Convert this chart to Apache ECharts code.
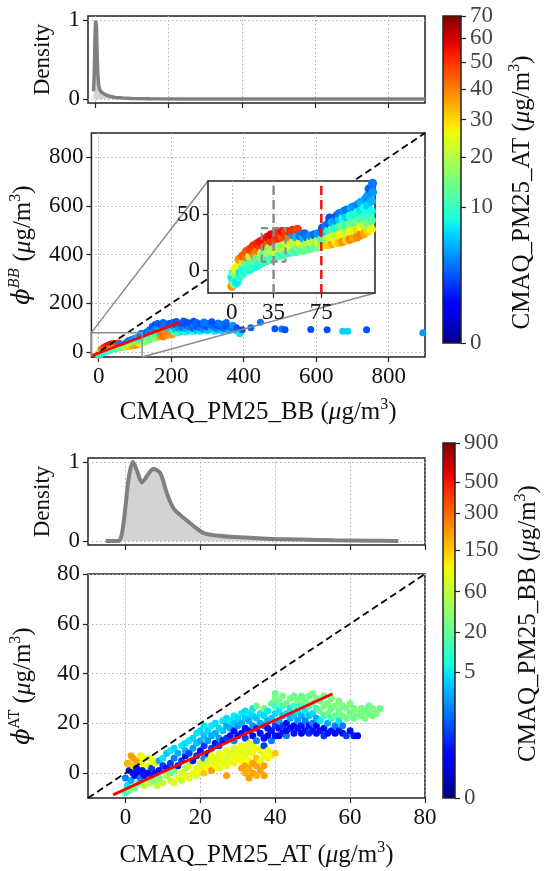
<!DOCTYPE html>
<html><head><meta charset="utf-8">
<script src="https://cdn.jsdelivr.net/npm/echarts@6/dist/echarts.min.js"></script>
<style>html,body{margin:0;padding:0;background:#fff}#c{width:544px;height:871px}</style>
</head><body><div id="c"></div>
<script>
// ---------------- data ----------------
const topDensX = [-5, -3, -1, 0, 1, 2, 3, 4, 5, 7, 9, 12, 16, 22, 30, 40, 55, 75, 100, 150, 250, 400, 600, 900];
const topDensY = [0.1, 0.3, 0.75, 0.92, 0.99, 1.0, 0.93, 0.75, 0.55, 0.3, 0.18, 0.12, 0.09, 0.07, 0.05, 0.035, 0.02, 0.012, 0.007, 0.004, 0.002, 0.001, 0.0005, 0.0005];
const botDensX = [-5.3, -2, -1, 0, 0.9, 2, 3, 4.4, 6, 7.4, 9.3, 11.1, 12.9, 15.6, 18.2, 20.9, 24.4, 29, 37.8, 46.7, 55.6, 65, 72.9];
const botDensY = [0, 0, 0.08, 0.43, 0.81, 1.0, 0.9, 0.74, 0.84, 0.91, 0.86, 0.6, 0.41, 0.29, 0.19, 0.1, 0.07, 0.05, 0.03, 0.02, 0.01, 0.004, 0];

// [CMAQ_PM25_BB, phi_BB, CMAQ_PM25_AT]
const bbPoints = [
[0,-14,38],[1,-10,10],[0,-6,7],[1,-2,12],[2,-12,15],
[3,-8,9],[3,-3,20],[3,2,27],[4,-11,7],
[6,-6,9],[6,0,15],[6,5,27],[6,10,38],[7,-2,7],
[9,-3,10],[9,3,12],[9,8,30],[9,13,45],[10,0,8],
[12,0,9],[12,6,12],[12,12,40],[12,17,45],
[15,1,8],[15,7,10],[15,13,20],[15,19,48],[16,4,12],
[18,3,9],[18,9,14],[18,16,45],[18,22,50],[19,13,38],
[21,4,8],[21,11,12],[21,18,40],[21,24,52],
[24,6,10],[24,12,15],[24,20,48],[24,26,55],[25,16,20],
[27,8,9],[27,14,12],[27,22,50],[27,28,55],
[30,9,10],[30,16,18],[30,24,45],[30,30,55],[31,20,15],
[33,10,12],[33,18,20],[33,26,50],[33,32,58],
[36,12,9],[36,20,15],[36,27,48],[36,33,55],[37,16,25],
[39,13,11],[39,21,18],[39,29,52],[39,34,50],
[42,14,10],[42,22,15],[42,30,45],[42,35,55],[43,18,20],
[45,15,12],[45,23,22],[45,31,50],[45,35,48],
[48,16,9],[48,24,18],[48,30,40],[48,35,52],[49,20,25],
[51,17,12],[51,25,20],[51,32,4],[51,36,50],
[54,17,10],[54,24,22],[54,30,5],[55,37,48],[55,21,15],
[57,18,14],[57,25,25],[57,31,3],
[60,18,12],[60,24,20],[60,29,5],[61,33,2.5],
[63,19,15],[63,25,18],[63,30,3],
[66,20,12],[66,26,22],[66,31,4],
[69,21,14],[69,27,18],[69,32,2.5],
[72,21,13],[72,27,20],[72,33,4],[73,24,25],
[75,22,16],[75,28,12],[75,34,3],[76,38,2],
[78,23,27],[78,29,14],[78,35,6],[79,40,3],
[81,23,30],[81,29,22],[81,36,9],[81,42,2.5],[82,47,2],
[84,24,35],[84,30,25],[84,37,12],[84,43,5],
[87,25,28],[87,31,20],[87,38,9],[87,45,4],[88,49,2.5],
[90,25,32],[90,32,27],[90,39,12],[90,46,6],[90,51,3],
[93,26,38],[93,33,25],[93,40,14],[93,47,8],[94,53,4],
[96,27,30],[96,34,20],[96,41,10],[96,48,6],[96,54,3],
[99,28,40],[99,35,27],[99,42,15],[99,49,9],[100,56,5],
[102,29,35],[102,36,22],[102,43,12],[102,50,8],[102,57,4],
[105,30,38],[105,37,30],[105,44,14],[105,52,9],[106,59,3],
[108,32,40],[108,39,25],[108,46,12],[108,54,7],[108,61,5],
[111,33,35],[111,40,20],[111,48,10],[111,56,8],[112,64,4],
[114,35,30],[114,42,15],[114,50,9],[114,58,6],[114,67,4],[115,73,2.5],
[117,37,25],[117,45,12],[117,53,8],[117,62,5],[118,70,4],[118,78,3],
[125,40,20],[125,55,10],[125,70,5],[130,45,15],[130,62,8],[130,80,3],
[135,48,18],[135,65,12],[135,85,2.5],[140,50,14],[140,62,15],[140,75,6],[140,92,3],
[148,55,12],[148,70,15],[148,88,4],[148,105,2],
[155,58,20],[155,75,10],[155,95,3],[155,112,2],
[162,60,15],[162,78,8],[162,100,4],[162,118,2.5],
[170,65,38],[170,80,40],[170,98,5],[170,115,2],
[178,62,40],[178,75,42],[178,90,38],[178,108,3],[178,122,2.5],
[186,68,38],[186,82,40],[186,95,6],[186,115,3],
[195,70,36],[195,85,38],[195,100,5],[195,118,2],
[204,72,38],[204,90,8],[204,108,3],[204,122,2.5],
[212,78,12],[212,95,5],[212,112,2],[214,126,2],
[220,80,10],[220,98,4],[220,118,2.5],
[230,85,7],[230,100,3],[230,118,2],[234,128,2.5],
[240,82,9],[240,96,4],[240,112,2.5],[240,124,2],
[250,88,6],[250,104,3],[250,120,2],
[260,84,8],[260,98,2.5],[260,115,3],[262,127,2],
[270,90,5],[270,106,2],[270,122,2.5],
[280,86,7],[280,100,3],[280,116,2],
[290,92,4],[290,108,2.5],[290,124,3],
[300,88,6],[300,102,2],[300,118,3],
[310,94,5],[310,110,2.5],[312,125,2],
[320,86,7],[320,100,3],[320,114,2],
[330,92,4],[330,106,2],[330,120,3],
[340,88,6],[340,100,2.5],[340,114,3],
[350,95,3],[350,108,2],[352,122,2.5],
[360,90,5],[360,104,2.5],
[370,96,3],[370,110,4],
[380,88,6],[380,100,2],
[389,75,7],[396,92,2],[420,100,2.5],[446,123,3],
[486,96,2],[505,95,3],[514,92,2],[585,93,2],[630,92,2],
[673,86,6],[687,86,6],[739,92,2],[894,80,4]
];

// [CMAQ_PM25_AT, phi_AT, CMAQ_PM25_BB]
const atPoints = [
[0,-8,12],[0.5,-5,5],[0,-2,0.9],[1,1,0.05],[0.5,4,180],[1.5,7,200],[1,-7,23],[1.5,-3,2],[2,0,0.05],[2,3,150],[2,6,200],[2.5,-6,28],[2.5,-1,0.02],
[3,2,0.05],[3,5,200],[3.5,-4,23],[3.5,0,0.02],[4,7,100],[4,-2,0.9],[4.5,1,0.05],[4.5,4,100],[5,-5,60],[5,-1,0.05],[5,6,90],
[6,0,0.02],[6,3,100],[6.5,-4,50],[6.5,6,80],[7,-1,0.05],[7,2,0.17],[7.5,5,100],[7.5,-3,28],[8,0,0.05],[8,4,90],[8.5,-5,60],
[9,1,0.05],[9,-2,28],[9,5,2],[10,-4,60],[10,3,0.17],[10,6,5],[11,-1,45],[11,2,0.05],[11,8,3],[12,-3,70],[12,4,0.2],[12,9,5],[12,0,23],
[13,-4,80],[13,1,28],[13,6,0.9],[13,10,4],[14,-2,90],[14,3,0.05],[14,8,2],[15,-3,60],[15,0,80],[15,5,0.17],[15,11,5],[16,-1,100],[16,2,45],[16,7,0.05],[16,12,4],[16,9,2],
[17,-2,90],[17,3,70],[17,8,0.2],[17,13,5],[18,0,100],[18,5,0.05],[18,10,1.5],[18,14,4],[19,-1,80],[19,2,90],[19,7,0.17],[19,12,3],[19,16,5],[20,1,100],[20,4,80],[20,9,0.05],[20,13,2],[20,17,4],
[21,0,150],[21,3,90],[21,6,0.9],[21,11,0.2],[21,15,3],[21,19,5],[22,2,100],[22,5,70],[22,8,0.05],[22,13,1.5],[22,17,4],[23,1,200],[23,4,90],[23,7,100],[23,10,0.17],[23,15,2],[23,19,5],[24,3,100],[24,6,80],[24,12,0.05],[24,16,2],[24,20,4],
[25,2,90],[25,5,100],[25,8,80],[25,11,0.2],[25,14,1.5],[25,18,4],[26,4,90],[26,7,100],[26,13,0.05],[26,17,3],[26,21,5],[27,-1,200],[27,3,100],[27,6,80],[27,9,90],[27,14,0.17],[27,19,2],[27,22,4],[28,5,100],[28,8,70],[28,15,0.05],[28,18,2],[28,21,5],
[29,4,100],[29,7,90],[29,10,80],[29,13,0.9],[29,17,0.05],[29,20,3],[29,23,5],[30,6,100],[30,9,90],[30,15,0.02],[30,19,1.5],[30,22,4],[31,2,200],[31,5,100],[31,8,80],[31,11,90],[31,16,0.05],[31,20,2],[31,24,5],[32,0,180],[32,3,200],[32,7,100],[32,10,90],[32,14,0.17],[32,18,0.05],[32,22,3],[32,25,4],
[33,-2,200],[33,2,180],[33,5,100],[33,9,90],[33,12,80],[33,17,0.05],[33,21,2],[33,24,5],[34,0,200],[34,4,200],[34,8,100],[34,11,90],[34,15,0.02],[34,19,1.5],[34,23,4],[34,26,5],[35,-1,180],[35,3,200],[35,6,150],[35,10,100],[35,13,0.9],[35,18,0.05],[35,22,3],[35,27,23],[36,1,200],[36,5,100],[36,9,90],[36,16,0.05],[36,20,2],[36,24,5],
[37,-1,200],[37,3,200],[37,7,90],[37,11,0.2],[37,14,0.05],[37,19,0.9],[37,23,4],[37,26,28],[38,6,100],[38,9,100],[38,15,0.02],[38,18,0.05],[38,21,2],[38,25,5],[39,7,100],[39,13,0.9],[39,17,0.05],[39,22,3],[39,28,23],[40,8,150],[40,15,0.05],[40,19,0.17],[40,24,4],[40,30,28],[40,32,23],[40,27,12],
[41,15,0.02],[41,18,0.05],[41,21,2],[41,25,5],[41,29,23],[42,16,0.05],[42,19,0.17],[42,23,3],[42,27,12],[42,31,28],[43,15,0.9],[43,17,0.02],[43,20,0.05],[43,24,4],[43,28,23],[44,18,0.05],[44,22,2],[44,26,5],[44,30,28],[45,16,0.05],[45,19,0.02],[45,23,3],[45,27,12],[45,31,23],
[46,18,0.05],[46,21,1.5],[46,25,5],[46,29,28],[47,16,0.02],[47,19,0.05],[47,23,2],[47,27,12],[47,31,23],[48,17,0.05],[48,21,0.9],[48,25,5],[48,29,28],[49,16,0.17],[49,19,0.05],[49,23,3],[49,27,12],[49,31,23],[50,17,0.05],[50,20,0.9],[50,24,4],[50,28,28],[50,32,28],
[51,16,0.05],[51,19,0.02],[51,22,2],[51,26,12],[51,30,23],[52,17,0.05],[52,21,5],[52,25,28],[52,29,23],[53,15,0.17],[53,18,0.05],[53,23,12],[53,27,28],[53,31,23],[54,16,0.05],[54,20,2],[54,24,23],[54,28,28],[55,17,0.05],[55,22,12],[55,26,23],[55,30,28],
[56,16,0.02],[56,19,0.9],[56,23,23],[56,27,28],[57,17,0.05],[57,21,5],[57,25,23],[57,29,28],[58,16,0.05],[58,19,0.9],[58,23,28],[58,27,23],[59,15,0.17],[59,22,23],[59,26,28],[60,17,0.05],[60,24,23],[60,28,28],[61,15,0.05],[61,22,23],[61,26,28],[62,15,0.02],[62,24,28],
[63,23,23],[63,26,28],[64,25,23],[64,22,28],[65,24,28],[65,27,23],[66,23,23],[66,26,28],[67,24,28],[68,26,23]
];

const bbFitX = [-20, 222], bbFitY = [-15, 121];
const atFitX = [-3.3, 55.3], atFitY = [-8.75, 31.85];
const bbTicks = [0, 200, 400, 600, 800];
const atTicks = [0, 20, 40, 60, 80];
const densTicks = [0, 1];
const insetXTicks = [0, 35, 75], insetYTicks = [0, 50];
const insetXRange = [-20, 120], insetYRange = [-20, 80];
const insetGrayX = 35, insetRedX = 75;
const insetBoxX = [25, 45], insetBoxY = [8, 38];
const cb1Ticks = [0, 10, 20, 30, 40, 50, 60, 70];
const cb2Ticks = [0, 5, 20, 60, 150, 300, 500, 900];
const cb1Max = 70, cb1Gamma = 0.45;
const cb2Max = 900, cb2Gamma = 0.2;

// ---------------- helpers ----------------
const FONT = 'Liberation Serif';
function jet(t) {
  t = Math.max(0, Math.min(1, t));
  function seg(p) {
    for (let i = 1; i < p.length; i++) if (t <= p[i][0]) { const a = p[i-1], b = p[i]; return a[1] + (b[1]-a[1])*(t-a[0])/(b[0]-a[0]); }
    return p[p.length-1][1];
  }
  const r = seg([[0,0],[0.35,0],[0.66,1],[0.89,1],[1,0.5]]);
  const g = seg([[0,0],[0.125,0],[0.375,1],[0.64,1],[0.91,0],[1,0]]);
  const b = seg([[0,0.5],[0.11,1],[0.34,1],[0.65,0],[1,0]]);
  return 'rgb(' + Math.round(r*255) + ',' + Math.round(g*255) + ',' + Math.round(b*255) + ')';
}
const norm1 = v => Math.min(1, Math.pow(Math.max(0, v) / cb1Max, cb1Gamma));
const norm2 = v => Math.min(1, Math.pow(Math.max(0, v) / cb2Max, cb2Gamma));
const stops = []; for (let i = 0; i <= 60; i++) stops.push({offset: i/60, color: jet(i/60)});
const jetGrad = new echarts.graphic.LinearGradient(0, 1, 0, 0, stops);

const rich = {
  mu: {fontFamily: FONT, fontStyle: 'italic', fontSize: 25, color: '#111'},
  sup: {fontFamily: FONT, fontSize: 16, verticalAlign: 'top', lineHeight: 14, color: '#111'},
  phi: {fontFamily: 'DejaVu Serif', fontStyle: 'italic', fontSize: 24, color: '#111'},
  supi: {fontFamily: 'DejaVu Serif', fontStyle: 'italic', fontSize: 14, verticalAlign: 'top', lineHeight: 14, color: '#111'},
  supr: {fontFamily: 'DejaVu Serif', fontSize: 14, verticalAlign: 'top', lineHeight: 14, color: '#111'}
};
const nameStyle = {fontFamily: FONT, fontSize: 25, color: '#111', lineHeight: 30, rich: rich};

function valAxis(gridIndex, min, max, ticks, showLabels, extra) {
  return Object.assign({
    type: 'value', gridIndex: gridIndex, min: min, max: max,
    axisLine: {show: false, onZero: false},
    axisTick: {show: true, customValues: ticks, length: 5, lineStyle: {color: '#222', width: 1.2}},
    axisLabel: {show: showLabels, customValues: ticks, color: '#111', fontFamily: FONT, fontSize: 23, margin: 8, hideOverlap: false},
    splitLine: {show: true, lineStyle: {color: '#b0b0b0', type: [1.5, 2.5], width: 1}}
  }, extra || {});
}
const gridBase = {show: true, borderColor: '#222', borderWidth: 1.5, backgroundColor: 'transparent', containLabel: false};
const toPairs = (xs, ys) => xs.map((x, i) => [x, ys[i]]);
function cbAxis(gridIndex, ticks, norm, title, gap, namePad) {
  return valAxis(gridIndex, 0, 1, ticks.map(norm), false, {
    position: 'right', splitLine: {show: false},
    name: title, nameLocation: 'middle', nameRotate: 90, nameGap: gap,
    nameTextStyle: Object.assign({}, nameStyle, {padding: namePad})
  });
}
function cbLabels(axisIndex, ticks, norm) {
  return {type: 'scatter', xAxisIndex: axisIndex, yAxisIndex: axisIndex, symbolSize: 0, z: 3, silent: true,
    data: ticks.map(v => ({value: [1, norm(v)], name: String(v)})),
    label: {show: true, position: 'right', distance: 9, formatter: p => p.name,
      color: '#111', fontFamily: FONT, fontSize: 23}};
}

const chart = echarts.init(document.getElementById('c'));
const option = {
  animation: false,
  backgroundColor: '#fff',
  textStyle: {fontFamily: FONT},
  grid: [
    Object.assign({}, gridBase, {left: 88, top: 16, width: 337, height: 87}),
    Object.assign({}, gridBase, {left: 88, top: 133, width: 337, height: 224}),
    Object.assign({}, gridBase, {left: 208, top: 181, width: 167, height: 112, backgroundColor: '#fff', z: 5}),
    Object.assign({}, gridBase, {left: 88, top: 458, width: 337, height: 87}),
    Object.assign({}, gridBase, {left: 88, top: 574, width: 337, height: 224}),
    Object.assign({}, gridBase, {left: 443, top: 16, width: 18, height: 327, show: false}),
    Object.assign({}, gridBase, {left: 443, top: 443, width: 18, height: 355, show: false})
  ],
  xAxis: [
    valAxis(0, -20, 900, bbTicks, false),
    valAxis(1, -20, 900, bbTicks, true, {name: 'CMAQ_PM25_BB ({mu|μ}g/m{sup|3})', nameLocation: 'middle', nameGap: 40, nameTextStyle: nameStyle}),
    valAxis(2, insetXRange[0], insetXRange[1], insetXTicks, true, {z: 6}),
    valAxis(3, -10, 80, atTicks, false),
    valAxis(4, -10, 80, atTicks, true, {name: 'CMAQ_PM25_AT ({mu|μ}g/m{sup|3})', nameLocation: 'middle', nameGap: 42, nameTextStyle: nameStyle}),
    {type: 'value', gridIndex: 5, min: 0, max: 1, show: false},
    {type: 'value', gridIndex: 6, min: 0, max: 1, show: false}
  ],
  yAxis: [
    valAxis(0, -0.05, 1.05, densTicks, true, {name: 'Density', nameLocation: 'middle', nameGap: 34, nameTextStyle: {fontFamily: FONT, fontSize: 23, color: '#111'}}),
    valAxis(1, -20, 900, bbTicks, true, {name: '{phi|ϕ}{supi|BB} ({mu|μ}g/m{sup|3})', nameLocation: 'middle', nameGap: 50, nameTextStyle: nameStyle}),
    valAxis(2, insetYRange[0], insetYRange[1], insetYTicks, true, {z: 6}),
    valAxis(3, -0.05, 1.05, densTicks, true, {name: 'Density', nameLocation: 'middle', nameGap: 34, nameTextStyle: {fontFamily: FONT, fontSize: 23, color: '#111'}}),
    valAxis(4, -10, 80, atTicks, true, {name: '{phi|ϕ}{supr|AT} ({mu|μ}g/m{sup|3})', nameLocation: 'middle', nameGap: 50, nameTextStyle: nameStyle}),
    cbAxis(5, cb1Ticks, norm1, 'CMAQ_PM25_AT ({mu|μ}g/m{sup|3})', 46, [0, 26, 0, 0]),
    cbAxis(6, cb2Ticks, norm2, 'CMAQ_PM25_BB ({mu|μ}g/m{sup|3})', 58, [0, 6, 0, 0])
  ],
  series: [
    {type: 'line', xAxisIndex: 0, yAxisIndex: 0, data: toPairs(topDensX, topDensY), symbol: 'none',
     lineStyle: {color: '#808080', width: 3.5}, areaStyle: {color: '#d3d3d3', opacity: 1}},
    {type: 'scatter', xAxisIndex: 1, yAxisIndex: 1, data: bbPoints, symbolSize: 7, z: 2,
     itemStyle: {color: p => jet(norm1(p.value[2])), opacity: 1}},
    {type: 'line', xAxisIndex: 1, yAxisIndex: 1, data: [[-20, -20], [900, 900]], symbol: 'none', z: 3,
     lineStyle: {color: '#000', width: 1.8, type: [7, 4]}},
    {type: 'line', xAxisIndex: 1, yAxisIndex: 1, data: toPairs(bbFitX, bbFitY), symbol: 'none', z: 3,
     lineStyle: {color: '#ff0000', width: 2.8}},
    {type: 'line', xAxisIndex: 1, yAxisIndex: 1, symbol: 'none', z: 3, clip: false,
     data: [[insetXRange[0], insetYRange[0]], [insetXRange[0], insetYRange[1]], [insetXRange[1], insetYRange[1]], [insetXRange[1], insetYRange[0]]],
     lineStyle: {color: '#8c8c8c', width: 1.5}},
    {type: 'scatter', xAxisIndex: 2, yAxisIndex: 2, data: bbPoints, symbolSize: 9, z: 7,
     itemStyle: {color: p => jet(norm1(p.value[2])), opacity: 1}},
    {type: 'line', xAxisIndex: 2, yAxisIndex: 2, data: [[insetGrayX, insetYRange[0]], [insetGrayX, insetYRange[1]]], symbol: 'none', z: 8,
     lineStyle: {color: '#8a8a8a', width: 2.5, type: [9, 5]}},
    {type: 'line', xAxisIndex: 2, yAxisIndex: 2, data: [[insetRedX, insetYRange[0]], [insetRedX, insetYRange[1]]], symbol: 'none', z: 8,
     lineStyle: {color: '#ee1111', width: 2.5, type: [9, 5]}},
    {type: 'line', xAxisIndex: 2, yAxisIndex: 2, symbol: 'none', z: 8,
     data: [[insetBoxX[0], insetBoxY[0]], [insetBoxX[0], insetBoxY[1]], [insetBoxX[1], insetBoxY[1]], [insetBoxX[1], insetBoxY[0]], [insetBoxX[0], insetBoxY[0]]],
     lineStyle: {color: '#8a8a8a', width: 2.2, type: [7, 4]}},
    {type: 'line', xAxisIndex: 3, yAxisIndex: 3, data: toPairs(botDensX, botDensY), symbol: 'none', smooth: 0.3,
     lineStyle: {color: '#808080', width: 4}, areaStyle: {color: '#d3d3d3', opacity: 1}},
    {type: 'scatter', xAxisIndex: 4, yAxisIndex: 4, data: atPoints, symbolSize: 7, z: 2,
     itemStyle: {color: p => jet(norm2(p.value[2])), opacity: 1}},
    {type: 'line', xAxisIndex: 4, yAxisIndex: 4, data: [[-10, -10], [80, 80]], symbol: 'none', z: 3,
     lineStyle: {color: '#000', width: 1.8, type: [7, 4]}},
    {type: 'line', xAxisIndex: 4, yAxisIndex: 4, data: toPairs(atFitX, atFitY), symbol: 'none', z: 3,
     lineStyle: {color: '#ff0000', width: 2.8}},
    {type: 'custom', xAxisIndex: 5, yAxisIndex: 5, data: [[0, 0]], z: 2, renderItem: colorbarRect},
    {type: 'custom', xAxisIndex: 6, yAxisIndex: 6, data: [[0, 0]], z: 2, renderItem: colorbarRect},
    cbLabels(5, cb1Ticks, norm1),
    cbLabels(6, cb2Ticks, norm2)
  ]
};
function colorbarRect(params, api) {
  const p0 = api.coord([0, 0]), p1 = api.coord([1, 1]);
  return {type: 'rect', shape: {x: p0[0], y: p1[1], width: p1[0] - p0[0], height: p0[1] - p1[1]},
          style: {fill: jetGrad, stroke: '#222', lineWidth: 1.5}};
}
chart.setOption(option);

// connector lines between the zoom box and the inset
const a1 = chart.convertToPixel({xAxisIndex: 1, yAxisIndex: 1}, [insetXRange[0], insetYRange[1]]);
const b1 = chart.convertToPixel({xAxisIndex: 2, yAxisIndex: 2}, [insetXRange[0], insetYRange[1]]);
const a2 = chart.convertToPixel({xAxisIndex: 1, yAxisIndex: 1}, [insetXRange[1], insetYRange[0]]);
const b2 = chart.convertToPixel({xAxisIndex: 2, yAxisIndex: 2}, [insetXRange[1], insetYRange[0]]);
chart.setOption({graphic: [
  {type: 'line', z: 4, shape: {x1: a1[0], y1: a1[1], x2: b1[0], y2: b1[1]}, style: {stroke: '#8c8c8c', lineWidth: 1.5}},
  {type: 'line', z: 4, shape: {x1: a2[0], y1: a2[1], x2: b2[0], y2: b2[1]}, style: {stroke: '#8c8c8c', lineWidth: 1.5}}
]});
</script></body></html>
